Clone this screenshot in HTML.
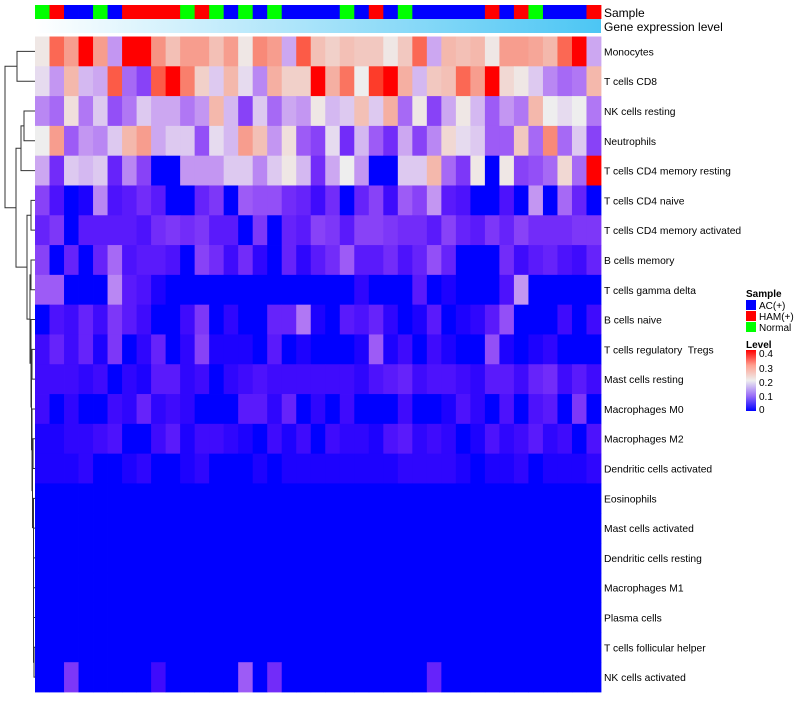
<!DOCTYPE html>
<html><head><meta charset="utf-8">
<style>
body{margin:0;background:#fff;width:800px;height:700px;overflow:hidden;font-family:"Liberation Sans",Arial,sans-serif;}
svg text{font-family:"Liberation Sans",Arial,sans-serif;white-space:pre;}
</style></head>
<body>
<svg id="chart" width="800" height="700" xmlns="http://www.w3.org/2000/svg">
  <defs>
    <linearGradient id="geneGrad" x1="0" x2="1" y1="0" y2="0">
      <stop offset="0" stop-color="#ffffff"/><stop offset="1" stop-color="#4cc6f4"/>
    </linearGradient>
    <linearGradient id="levelGrad" x1="0" x2="0" y1="1" y2="0">
      <stop offset="0" stop-color="#0000ff"/><stop offset="0.25" stop-color="#9a6ef8"/>
      <stop offset="0.5" stop-color="#eeeeee"/><stop offset="0.75" stop-color="#ffa090"/>
      <stop offset="1" stop-color="#ff0000"/>
    </linearGradient>
  </defs>
  <g id="cells"></g>
  <g id="sampleBar"></g>
  <rect x="35" y="19" width="566" height="14" fill="url(#geneGrad)"/>
  <text x="604" y="17" font-size="12">Sample</text>
  <text x="604" y="31" font-size="12">Gene expression level</text>
  <g id="rowLabels"></g>
  <g id="dendro" stroke="#333" stroke-width="1" fill="none"></g>
  <g font-size="10">
    <text x="746" y="297" font-weight="bold" font-size="10">Sample</text>
    <rect x="746" y="300" width="10" height="10" fill="#0000ff"/>
    <text x="759" y="309">AC(+)</text>
    <rect x="746" y="311" width="10" height="10" fill="#ff0000"/>
    <text x="759" y="320">HAM(+)</text>
    <rect x="746" y="322" width="10" height="10" fill="#00ff00"/>
    <text x="759" y="331">Normal</text>
    <text x="746" y="348" font-weight="bold">Level</text>
    <rect x="746" y="350" width="10" height="61" fill="url(#levelGrad)"/>
    <text x="759" y="357">0.4</text>
    <text x="759" y="372">0.3</text>
    <text x="759" y="386">0.2</text>
    <text x="759" y="400">0.1</text>
    <text x="759" y="413">0</text>
  </g>
</svg>
<script>
const rowNames = ["Monocytes","T cells CD8","NK cells resting","Neutrophils","T cells CD4 memory resting","T cells CD4 naive","T cells CD4 memory activated","B cells memory","T cells gamma delta","B cells naive","T cells regulatory  Tregs","Mast cells resting","Macrophages M0","Macrophages M2","Dendritic cells activated","Eosinophils","Mast cells activated","Dendritic cells resting","Macrophages M1","Plasma cells","T cells follicular helper","NK cells activated"];
const sampleGroups = ["Normal","HAM","AC","AC","Normal","AC","HAM","HAM","HAM","HAM","Normal","HAM","Normal","AC","Normal","AC","Normal","AC","AC","AC","AC","Normal","AC","HAM","AC","Normal","AC","AC","AC","AC","AC","HAM","AC","HAM","Normal","AC","AC","AC","HAM"];
const rMono  = [0.21,0.35,0.3,0.4,0.3,0.15,0.4,0.4,0.31,0.26,0.3,0.3,0.26,0.3,0.21,0.32,0.3,0.16,0.36,0.26,0.24,0.26,0.25,0.25,0.21,0.25,0.35,0.16,0.27,0.26,0.27,0.21,0.3,0.3,0.29,0.27,0.35,0.4,0.16];
const rCD8   = [0.19,0.15,0.27,0.17,0.16,0.36,0.12,0.09,0.36,0.4,0.33,0.24,0.18,0.27,0.19,0.14,0.28,0.24,0.24,0.4,0.28,0.34,0.2,0.38,0.4,0.28,0.17,0.25,0.26,0.35,0.3,0.4,0.23,0.21,0.18,0.14,0.12,0.13,0.27];
const rNKr   = [0.14,0.12,0.22,0.13,0.18,0.1,0.13,0.18,0.16,0.16,0.13,0.15,0.27,0.17,0.09,0.18,0.12,0.16,0.15,0.21,0.17,0.18,0.26,0.18,0.28,0.12,0.21,0.09,0.16,0.21,0.17,0.11,0.15,0.13,0.27,0.2,0.19,0.2,0.13];
const rNeut  = [0.2,0.3,0.11,0.15,0.14,0.18,0.27,0.3,0.16,0.18,0.18,0.1,0.19,0.17,0.3,0.26,0.15,0.22,0.11,0.09,0.19,0.07,0.17,0.11,0.07,0.16,0.09,0.14,0.23,0.19,0.18,0.11,0.11,0.25,0.12,0.32,0.12,0.18,0.09];
const rCD4mr = [0.16,0.07,0.18,0.17,0.18,0.06,0.14,0.09,0,0,0.15,0.15,0.15,0.18,0.18,0.14,0.18,0.21,0.17,0.07,0.16,0.2,0.15,0,0,0.18,0.18,0.27,0.12,0.08,0.21,0,0.21,0.09,0.1,0.12,0.23,0.12,0.4];
const rCD4n  = [0.09,0.04,0,0.01,0.14,0.04,0.05,0.07,0.05,0,0,0.06,0.08,0,0.11,0.1,0.1,0.07,0.06,0.03,0.07,0,0.06,0.09,0.03,0.11,0.09,0.15,0.05,0.04,0,0,0.04,0,0.15,0,0.12,0.06,0];
const rCD4ma = [0.06,0.08,0,0.05,0.05,0.05,0.05,0.04,0.07,0.08,0.07,0.08,0.05,0.05,0,0.08,0,0.06,0.05,0.09,0.08,0.05,0.09,0.09,0.08,0.07,0.07,0.05,0.09,0.06,0.05,0.08,0.06,0.09,0.07,0.07,0.07,0.08,0.08];
const rBmem  = [0.09,0,0.06,0,0.06,0.12,0.04,0.05,0.05,0.04,0,0.09,0.07,0.03,0.07,0.02,0,0.06,0.02,0.05,0.07,0.11,0.05,0.05,0.07,0.04,0.06,0.1,0.06,0,0,0,0.07,0.03,0.05,0.06,0.04,0.03,0.06];
const rTgd   = [0.11,0.11,0,0,0,0.14,0.05,0.04,0.01,0,0,0,0,0,0,0,0,0,0,0,0,0,0.02,0,0,0,0.05,0,0.01,0,0,0,0.04,0.15,0,0,0,0,0];
const rBnai  = [0,0.04,0.03,0.06,0.03,0.08,0.05,0.03,0,0,0.03,0.08,0,0.02,0,0,0.06,0.06,0.13,0.01,0,0.05,0.04,0.06,0.02,0,0.01,0.05,0,0.01,0.02,0.05,0.1,0,0,0,0.03,0,0.03];
const rTreg  = [0.03,0.06,0.03,0.06,0.01,0.08,0,0.02,0.06,0,0.02,0.09,0.01,0.01,0.01,0,0.05,0,0.01,0,0,0,0.01,0.11,0.01,0.03,0,0.03,0.01,0,0,0.1,0.01,0,0.01,0.02,0,0,0];
const rMastr = [0.03,0.03,0.03,0.02,0.03,0,0.02,0.01,0.05,0.05,0.02,0.03,0,0.02,0.03,0.04,0.03,0.03,0.03,0.03,0.03,0.03,0.02,0.04,0.05,0.06,0.03,0.04,0.04,0.03,0.02,0.05,0.05,0.03,0.06,0.07,0.03,0.05,0.03];
const rM0    = [0.03,0,0.02,0,0,0.03,0.02,0.06,0.02,0.03,0.02,0,0,0,0.05,0.05,0.02,0.06,0,0.02,0,0.03,0,0,0,0.03,0,0,0.01,0.04,0.02,0,0.04,0,0.04,0.05,0,0.08,0];
const rM2    = [0.01,0.01,0.02,0.02,0.03,0.04,0,0,0.03,0.05,0.01,0.03,0.03,0.02,0.01,0,0.03,0.01,0.03,0,0.03,0.02,0.02,0.01,0.04,0.05,0.02,0.03,0.02,0,0.01,0.04,0.02,0.03,0.05,0.02,0.03,0,0.04];
const rDCa   = [0.01,0.01,0.01,0.02,0,0,0.01,0.02,0,0,0.01,0.02,0,0,0,0.01,0,0.01,0.01,0.01,0.01,0.01,0.01,0.01,0.01,0.02,0.02,0.02,0.02,0.01,0,0.01,0.01,0.02,0,0.01,0.01,0.01,0.02];
const rZero  = [0,0,0,0,0,0,0,0,0,0,0,0,0,0,0,0,0,0,0,0,0,0,0,0,0,0,0,0,0,0,0,0,0,0,0,0,0,0,0];
const rNKa   = [0,0,0.08,0,0,0,0,0,0.03,0,0,0,0,0,0.11,0,0.07,0,0,0,0,0,0,0,0,0,0,0.06,0,0,0,0,0,0,0,0,0,0,0];
const values = [rMono,rCD8,rNKr,rNeut,rCD4mr,rCD4n,rCD4ma,rBmem,rTgd,rBnai,rTreg,rMastr,rM0,rM2,rDCa,rZero,rZero,rZero,rZero,rZero,rZero,rNKa];

const NS="http://www.w3.org/2000/svg";
const X0=35,X1=601,Y0=36.5,Y1=692;
const nC=sampleGroups.length,nR=rowNames.length;
const cw=(X1-X0)/nC,rh=(Y1-Y0)/nR;
const xPos=i=>X0+i*cw, yPos=j=>Y0+j*rh;
const groupColor={AC:"#0000ff",HAM:"#ff0000",Normal:"#00ff00"};
function colorOf(v){
  v=Math.max(0,Math.min(0.4,v));
  let r,g,b;
  if(v<=0.2){const t=v/0.2;r=238*Math.pow(t,0.7);g=238*Math.pow(t,1.6);b=255-17*t;}
  else{const t=(v-0.2)/0.2;r=238+17*t;g=238*Math.pow(1-t,0.6);b=238*Math.pow(1-t,0.75);}
  return `rgb(${Math.round(r)},${Math.round(g)},${Math.round(b)})`;
}
function mk(tag,attrs,parent){const e=document.createElementNS(NS,tag);for(const k in attrs)e.setAttribute(k,attrs[k]);parent.appendChild(e);return e;}
const cells=document.getElementById('cells');
values.forEach((row,j)=>{row.forEach((v,i)=>{
  const r=mk('rect',{x:xPos(i),y:yPos(j),width:cw+0.4,height:rh+0.4,fill:colorOf(v)},cells);
  
  
});});
const sb=document.getElementById('sampleBar');
sampleGroups.forEach((g,i)=>{
  const r=mk('rect',{x:xPos(i),y:5,width:cw+0.4,height:14,fill:groupColor[g]},sb);
  
  
});
const rl=document.getElementById('rowLabels');
rowNames.forEach((n,j)=>{
  const t=mk('text',{x:604,y:yPos(j)+rh/2+4,'font-size':10.3,fill:'#000'},rl);
  t.textContent=n;
  
  
});
const d=document.getElementById('dendro');
const yc=j=>yPos(j)+rh/2;
function link(xa,ya,xb,yb,xp){
  const p=mk('path',{d:`M${xa},${ya}H${xp}V${yb}H${xb}`},d);
  
  
  return {x:xp,y:(ya+yb)/2};
}
const A=link(35,yc(0),35,yc(1),17);
const c23=link(35,yc(2),35,yc(3),24);
const C=link(c23.x,c23.y,35,yc(4),21);
let n=link(35,yc(20),35,yc(21),34);
for(let j=19;j>=15;j--) n=link(35,yc(j),n.x,n.y,33.5);
const e=link(35,yc(13),35,yc(14),33);
n=link(e.x,e.y,n.x,n.y,32.5);
n=link(35,yc(12),n.x,n.y,32);
const t=link(35,yc(10),35,yc(11),32);
n=link(t.x,t.y,n.x,n.y,31.5);
n=link(35,yc(9),n.x,n.y,31);
const g=link(35,yc(7),35,yc(8),31);
n=link(g.x,g.y,n.x,n.y,30);
const h=link(35,yc(5),35,yc(6),31);
const D=link(h.x,h.y,n.x,n.y,27);
const B=link(C.x,C.y,D.x,D.y,16);
link(A.x,A.y,B.x,B.y,5);
</script>
</body></html>
